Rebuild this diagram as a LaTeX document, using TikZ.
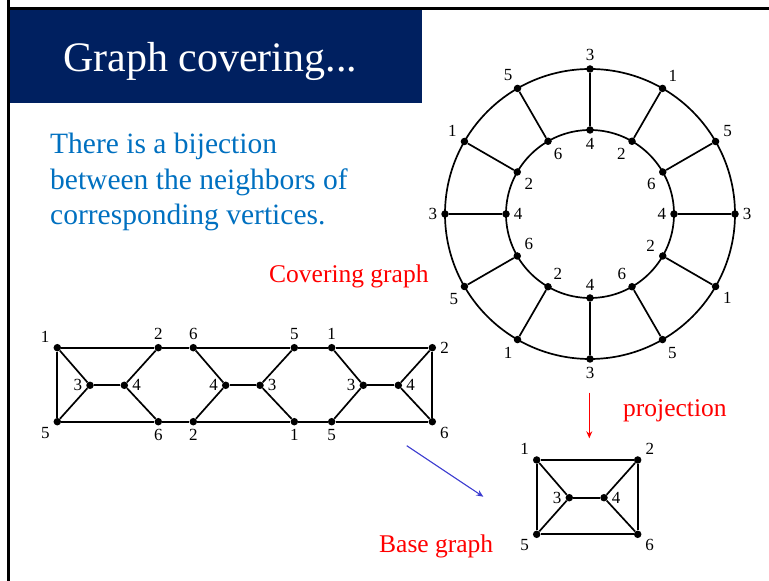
\documentclass[tikz,border=0pt]{standalone}
\usepackage{fontspec}
\setmainfont{Liberation Serif}
\usetikzlibrary{positioning, arrows.meta}

\definecolor{titleblue}{HTML}{002060}
\definecolor{textblue}{HTML}{0070C0}
\definecolor{arrowblue}{HTML}{3B3BCF}

\begin{document}
\begin{tikzpicture}[x=1pt, y=1pt, >={Stealth[length=7pt, width=6pt]},
    vtx/.style={circle, fill, inner sep=0pt, minimum size=7.5pt},
    edge/.style={line width=1.7pt},
    every label/.style={font=\fontsize{17}{17}\selectfont, inner sep=3.8pt},
    caption/.style={text=red, font=\fontsize{25.5}{30}\selectfont, anchor=base west, inner sep=0pt}]
    \useasboundingbox (0,0) rectangle (769,581);

    % Titel
    \fill[titleblue] (10,478) rectangle (422,571);
    \draw[line width=2.5pt] (8.5,581) -- (8.5,572.7) -- (769,572.7);
    \draw[line width=2.5pt] (8.5,0) -- (8.5,581);
    \node[text=white, font=\fontsize{42}{48}\selectfont, anchor=base west, inner sep=0pt] (title) at (63,509) {Graph covering...};

    % Text (base = letzte Zeile)
    \node[text=textblue, font=\fontsize{29.5}{35.5}\selectfont, align=left, anchor=base west, inner sep=0pt] (remark) at (50,356)
        {There is a bijection\\between the neighbors of\\corresponding vertices.};

    % Ueberlagerung (Ring)
    \begin{scope}[shift={(590,367)}]
        \draw[edge] (0,0) circle[radius=145];
        \draw[edge] (0,0) circle[radius=84];
        % Winkel / aussen / Lage / innen / Lage
        \foreach \a/\o/\la/\i/\lb [count=\k] in
            {90/3/90/4/270, 120/5/106/6/300, 150/1/170/2/327, 180/3/180/4/0,
             210/5/233/6/30, 240/1/253/2/66, 270/3/270/4/90, 300/5/296/6/118,
             330/1/335/2/175, 0/3/0/4/180, 30/5/10/6/215, 60/1/56/2/233} {
            \node[vtx, label={\la:\o}] (out\k) at (\a:145) {};
            \node[vtx, label={\lb:\i}] (in\k) at (\a:84) {};
            \draw[edge] (out\k) -- (in\k);
        }
    \end{scope}
    \node[caption] (covlabel) at (269,298) {Covering graph};

    % Streifen
    \node[vtx, label=165:1] (t1) at (57.3,233.3) {};
    \node[vtx, label=above:2] (t2) at (158.3,233.3) {};
    \node[vtx, label=above:6] (t3) at (193.3,233.3) {};
    \node[vtx, label=above:5] (t4) at (294.3,233.3) {};
    \node[vtx, label=above:1] (t5) at (331.7,233.3) {};
    \node[vtx, label=right:2] (t6) at (432.3,233.3) {};

    \node[vtx, label=left:3] (m1) at (90,195.7) {};
    \node[vtx, label=right:4] (m2) at (124.3,195.7) {};
    \node[vtx, label=left:4] (m3) at (225.7,195.7) {};
    \node[vtx, label=right:3] (m4) at (260,195.7) {};
    \node[vtx, label=left:3] (m5) at (363.3,195.7) {};
    \node[vtx, label=right:4] (m6) at (398.3,195.7) {};

    \node[vtx, label=200:5] (b1) at (57.3,159.3) {};
    \node[vtx, label=below:6] (b2) at (158.3,159.3) {};
    \node[vtx, label=below:2] (b3) at (193.3,159.3) {};
    \node[vtx, label=below:1] (b4) at (294.3,159.3) {};
    \node[vtx, label=below:5] (b5) at (331.7,159.3) {};
    \node[vtx, label=-20:6] (b6) at (432.3,159.3) {};

    \draw[edge] (t1) -- (t2) -- (t3) -- (t4) -- (t5) -- (t6) -- (b6);
    \draw[edge] (b1) -- (b2) -- (b3) -- (b4) -- (b5) -- (b6);
    \draw[edge] (t1) -- (b1);
    \draw[edge] (t1) -- (m1) -- (b1);
    \draw[edge] (m1) -- (m2);
    \draw[edge] (t2) -- (m2) -- (b2);
    \draw[edge] (t3) -- (m3) -- (b3);
    \draw[edge] (m3) -- (m4);
    \draw[edge] (t4) -- (m4) -- (b4);
    \draw[edge] (t5) -- (m5) -- (b5);
    \draw[edge] (m5) -- (m6);
    \draw[edge] (t6) -- (m6) -- (b6);

    % Basisgraph
    \node[vtx, label=165:1] (p1) at (536.7,121) {};
    \node[vtx, label=15:2] (p2) at (637.7,121) {};
    \node[vtx, label=left:3] (p3) at (569.3,83.3) {};
    \node[vtx, label=right:4] (p4) at (604,83.3) {};
    \node[vtx, label=200:5] (p5) at (536.7,46.7) {};
    \node[vtx, label=-20:6] (p6) at (637.7,46.7) {};

    \draw[edge] (p1) -- (p2) -- (p6) -- (p5) -- (p1);
    \draw[edge] (p1) -- (p3) -- (p5);
    \draw[edge] (p3) -- (p4);
    \draw[edge] (p2) -- (p4) -- (p6);
    \node[caption] (baselabel) at (379,28) {Base graph};

    % Pfeile
    \coordinate (projfrom) at (589.3,188.3);
    \coordinate (projto) at (589.3,142.7);
    \draw[->, red, line width=1.4pt] (projfrom) -- (projto);
    \node[caption] (projlabel) at (623,164) {projection};

    \coordinate (basefrom) at (406.7,135.3);
    \coordinate (baseto) at (483.3,84.3);
    \draw[->, arrowblue, line width=1.1pt] (basefrom) -- (baseto);
\end{tikzpicture}
\end{document}
